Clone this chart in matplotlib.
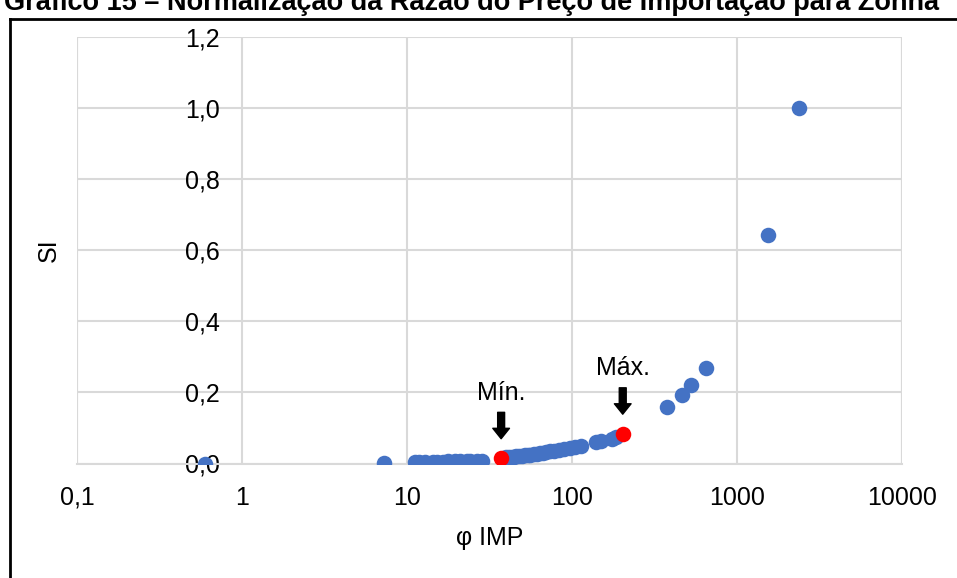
import matplotlib.pyplot as plt
from matplotlib.lines import Line2D

plt.rcParams['font.family'] = ['Liberation Sans', 'DejaVu Sans']

# phi IMP (log scale) and normalised SI values
phi_imp = [0.6, 7.3,
           11.2, 11.8, 12.9, 14.3, 15.2, 16.6, 17.8, 19.5, 21.0, 23.0, 24.2, 26.5, 28.5,
           38.5, 40, 41.5, 43, 44.5, 46, 48, 50, 52, 54, 56, 58.5, 61, 64, 67, 70,
           74, 78, 83, 90, 97, 105, 113, 140, 150, 175, 185,
           377, 464, 526, 649, 1542, 2377]
si = [0.0, 0.002,
      0.004, 0.004, 0.004, 0.005, 0.005, 0.005, 0.006, 0.006, 0.006, 0.007, 0.007, 0.008, 0.008,
      0.016, 0.017, 0.018, 0.018, 0.019, 0.020, 0.021, 0.022, 0.023, 0.024, 0.025, 0.026, 0.027,
      0.029, 0.030, 0.032, 0.034, 0.036, 0.038, 0.041, 0.044, 0.047, 0.050, 0.060, 0.063,
      0.070, 0.074,
      0.158, 0.194, 0.220, 0.270, 0.642, 1.000]

# highlighted extremes
min_pt = (37.2, 0.015)
max_pt = (203, 0.084)

x_ticks = [0.1, 1, 10, 100, 1000, 10000]
x_labels = ['0,1', '1', '10', '100', '1000', '10000']
y_ticks = [0.0, 0.2, 0.4, 0.6, 0.8, 1.0, 1.2]
y_labels = ['0,0', '0,2', '0,4', '0,6', '0,8', '1,0', '1,2']

W, H = 957, 578
fig = plt.figure(figsize=(W / 100, H / 100), dpi=100)
ax = fig.add_axes([77 / W, 1 - 463.5 / H, (902 - 77) / W, (463.5 - 37) / H])

grid_c = '#d9d9d9'
ax.set_xscale('log')
ax.set_xlim(0.1, 10000)
ax.set_ylim(0, 1.2)
ax.set_xticks(x_ticks)
ax.set_xticklabels(x_labels)
ax.minorticks_off()
ax.set_yticks(y_ticks)
ax.set_yticklabels(y_labels)
ax.grid(True, color=grid_c, linewidth=1.5)
ax.set_axisbelow(True)
for s in ['top', 'right']:
    ax.spines[s].set_visible(False)
ax.spines['bottom'].set_color(grid_c)
ax.spines['bottom'].set_linewidth(1.5)
# y labels sit next to the value axis, which crosses at x = 1
ax.spines['left'].set_position(('data', 1))
ax.spines['left'].set_color('none')
ax.axvline(0.1, color=grid_c, linewidth=1.5, zorder=0)
ax.axvline(10000, color=grid_c, linewidth=1.5, zorder=0)
ax.tick_params(axis='both', length=0, labelsize=18, colors='black')
ax.tick_params(axis='y', pad=16)
ax.tick_params(axis='x', pad=16)

ax.scatter(phi_imp, si, s=125, color='#4472c4', zorder=3, linewidths=0)
ax.scatter([min_pt[0], max_pt[0]], [min_pt[1], max_pt[1]], s=125,
           color='#ff0000', zorder=4, linewidths=0)

arrow = dict(arrowstyle='simple,head_width=1.2,head_length=0.75,tail_width=0.5',
             color='black', mutation_scale=10, shrinkA=0, shrinkB=14)
for pt, label in [(min_pt, 'Mín.'), (max_pt, 'Máx.')]:
    ax.annotate('', xy=pt, xytext=(0, 33), textcoords='offset points',
                arrowprops=arrow)
    ax.annotate(label, xy=pt, xytext=(0, 47), textcoords='offset points',
                ha='center', va='center', fontsize=18)

ax.set_xlabel('φ IMP', fontsize=18, labelpad=12)
ax.set_ylabel('SI', fontsize=18, labelpad=0)
ax.yaxis.set_label_coords(-16 / 825, 0.5)

# chart frame, partly outside the saved area
fig.add_artist(Line2D([10 / W, 10 / W], [0, 1 - 19 / H], color='black', linewidth=2))
fig.add_artist(Line2D([10 / W, 1], [1 - 19 / H, 1 - 19 / H], color='black', linewidth=2))

fig.text(471 / W, 1 - 10 / H,
         'Gráfico 15 – Normalização da Razão do Preço de Importação para Zonha',
         ha='center', va='baseline', fontsize=19.5, fontweight='bold')

fig.savefig('out.png', dpi=100)
